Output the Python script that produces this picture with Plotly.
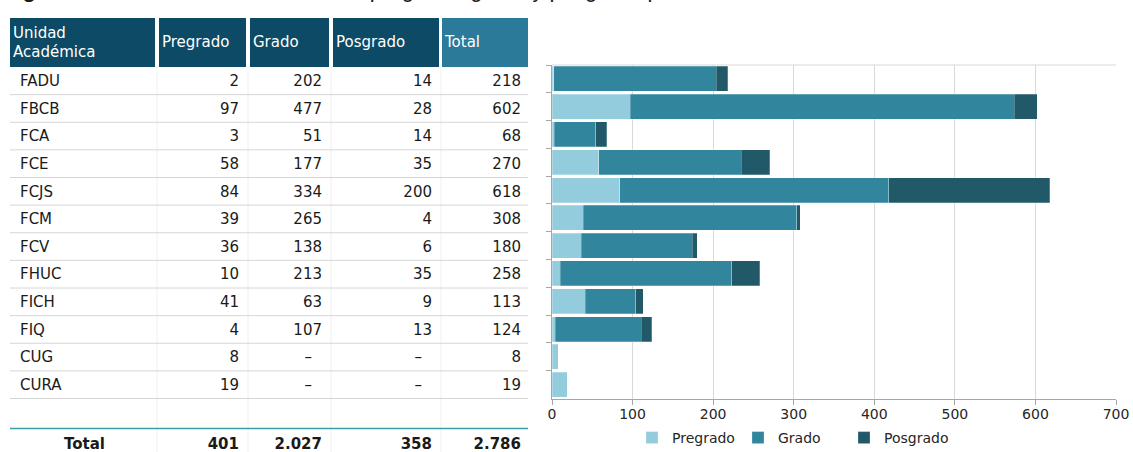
import plotly.graph_objects as go

# ---- data ----
units = ['FADU', 'FBCB', 'FCA', 'FCE', 'FCJS', 'FCM', 'FCV', 'FHUC', 'FICH', 'FIQ', 'CUG', 'CURA']
pregrado = [2, 97, 3, 58, 84, 39, 36, 10, 41, 4, 8, 19]
grado = [202, 477, 51, 177, 334, 265, 138, 213, 63, 107, None, None]
posgrado = [14, 28, 14, 35, 200, 4, 6, 35, 9, 13, None, None]
total = [218, 602, 68, 270, 618, 308, 180, 258, 113, 124, 8, 19]
header_labels = ['Unidad<br>Académica', 'Pregrado', 'Grado', 'Posgrado', 'Total']
series_names = ['Pregrado', 'Grado', 'Posgrado']
x_ticks = [0, 100, 200, 300, 400, 500, 600, 700]
title_text = '<b>Figura 5.</b> Estudiantes de carreras de pregrado, grado y posgrado por unidad académica en 2019'

# ---- style ----
W, H = 1133, 452
series_colors = ['#93cddd', '#31859c', '#215968']
head_dark = '#0c4a66'
head_light = '#2b7a9a'
text_font = 'DejaVu Sans'
head_top, head_bot = 18, 67
body_bot = 398.5
row_h = (body_bot - head_bot) / len(units)
col_edges = [(10, 155), (159, 246), (250, 329), (333, 439), (442, 528)]
chart_x = (552, 1116)
pad_right = 7
text_dy = 1.5
total_y = 445
teal_y = 428.5


def fmt(v):
    return f"{v:,}".replace(',', '.')


fig = go.Figure()

# ---- stacked bar chart ----
for name, vals, color in zip(series_names, [pregrado, grado, posgrado], series_colors):
    fig.add_trace(go.Bar(
        y=units, x=vals, name=name, orientation='h',
        marker=dict(color=color, line=dict(color='rgba(255,255,255,0.5)', width=0.5)),
        xaxis='x', yaxis='y', hoverinfo='skip',
    ))

# ---- table (drawn on a pixel-unit overlay axis) ----
row_y = [head_bot + (i + 0.5) * row_h + text_dy for i in range(len(units))]

# header text
for (x0, x1), lab in zip(col_edges, header_labels):
    fig.add_trace(go.Scatter(
        x=[x0 + 3], y=[(head_top + head_bot) / 2 + 1], text=[lab], mode='text',
        textposition='middle right', textfont=dict(family=text_font, size=15, color='white'),
        xaxis='x2', yaxis='y2', showlegend=False, hoverinfo='skip',
    ))

# unit names
fig.add_trace(go.Scatter(
    x=[col_edges[0][0] + 10] * len(units), y=row_y, text=units, mode='text',
    textposition='middle right', textfont=dict(family=text_font, size=15, color='#1a1a1a'),
    xaxis='x2', yaxis='y2', showlegend=False, hoverinfo='skip',
))

# numeric columns
for (x0, x1), vals in zip(col_edges[1:], [pregrado, grado, posgrado, total]):
    xs = [x1 - pad_right if v is not None else x1 - pad_right - 10 for v in vals]
    txt = [fmt(v) if v is not None else '–' for v in vals]
    fig.add_trace(go.Scatter(
        x=xs, y=row_y, text=txt, mode='text',
        textposition='middle left', textfont=dict(family=text_font, size=15, color='#1a1a1a'),
        xaxis='x2', yaxis='y2', showlegend=False, hoverinfo='skip',
    ))

# total row
sums = [sum(v for v in s if v is not None) for s in [pregrado, grado, posgrado, total]]
fig.add_trace(go.Scatter(
    x=[(col_edges[0][0] + col_edges[0][1]) / 2 + 2], y=[total_y], text=['<b>Total</b>'], mode='text',
    textposition='middle center', textfont=dict(family=text_font, size=15, color='#1a1a1a'),
    xaxis='x2', yaxis='y2', showlegend=False, hoverinfo='skip',
))
fig.add_trace(go.Scatter(
    x=[x1 - pad_right for (x0, x1) in col_edges[1:]], y=[total_y] * 4,
    text=[f"<b>{fmt(s)}</b>" for s in sums], mode='text',
    textposition='middle left', textfont=dict(family=text_font, size=15, color='#1a1a1a'),
    xaxis='x2', yaxis='y2', showlegend=False, hoverinfo='skip',
))

shapes = []
# header cells
for i, (x0, x1) in enumerate(col_edges):
    shapes.append(dict(type='rect', xref='x2', yref='y2', x0=x0, x1=x1, y0=head_top, y1=head_bot,
                       fillcolor=head_light if i == len(col_edges) - 1 else head_dark,
                       line=dict(width=0), layer='below'))
# faint vertical separators in body
for (x0, x1) in col_edges[:-1]:
    shapes.append(dict(type='line', xref='x2', yref='y2', x0=x1 + 2, x1=x1 + 2,
                       y0=head_bot, y1=H, line=dict(color='#f0f0f0', width=1), layer='below'))
# row lines
for i in range(1, len(units) + 1):
    y = head_bot + i * row_h
    shapes.append(dict(type='line', xref='x2', yref='y2', x0=col_edges[0][0], x1=col_edges[-1][1],
                       y0=y, y1=y, line=dict(color='#d6d6d6', width=1), layer='below'))
# teal line above total
shapes.append(dict(type='line', xref='x2', yref='y2', x0=col_edges[0][0], x1=col_edges[-1][1],
                   y0=teal_y, y1=teal_y, line=dict(color='#3a9fa6', width=1.5), layer='below'))
# chart top border
shapes.append(dict(type='line', xref='x2', yref='y2', x0=chart_x[0], x1=chart_x[1],
                   y0=head_bot - 2, y1=head_bot - 2, line=dict(color='#d9d9d9', width=1), layer='below'))

fig.update_layout(
    width=W, height=H,
    margin=dict(l=0, r=0, t=0, b=0, autoexpand=False),
    paper_bgcolor='white', plot_bgcolor='rgba(0,0,0,0)',
    barmode='stack', bargap=0.1,
    font=dict(family=text_font, size=14, color='#262626'),
    shapes=shapes,
    showlegend=True,
    legend=dict(orientation='h', x=632 / W, xanchor='left', y=1 - 438 / H, yanchor='middle',
                entrywidth=61, font=dict(family=text_font, size=14, color='#262626'),
                traceorder='normal'),
    xaxis=dict(domain=[chart_x[0] / W, chart_x[1] / W], range=[0, 700], tickvals=x_ticks,
               showgrid=True, gridcolor='#d9d9d9', gridwidth=1, zeroline=False, automargin=False,
               showline=True, linecolor='#a6a6a6', ticks='outside', ticklen=5, tickcolor='#a6a6a6',
               ticklabelstandoff=-2,
               tickfont=dict(family=text_font, size=14, color='#262626'), fixedrange=True),
    yaxis=dict(domain=[1 - body_bot / H, 1 - (head_bot - 2) / H], autorange='reversed', type='category',
               showticklabels=False, showgrid=False, zeroline=False, automargin=False,
               showline=True, linecolor='#a6a6a6', ticks='outside', ticklen=5, tickcolor='#a6a6a6',
               tickson='boundaries', fixedrange=True),
    xaxis2=dict(domain=[0, 1], range=[0, W], visible=False, anchor='y2', fixedrange=True, automargin=False),
    yaxis2=dict(domain=[0, 1], range=[H, 0], visible=False, anchor='x2', fixedrange=True, automargin=False),
    annotations=[dict(text=title_text, xref='paper', yref='paper', x=1 / W, y=1 - 4 / H,
                      xanchor='left', yanchor='bottom', showarrow=False,
                      font=dict(family='Liberation Sans', size=22, color='#1a1a1a'))],
)

page_css = ("document.documentElement.style.margin='0';document.documentElement.style.overflow='hidden';"
            "document.body.style.margin='0';document.body.style.padding='0';document.body.style.overflow='hidden';")
fig.write_html("out.html", config={'displayModeBar': False}, post_script=page_css)
